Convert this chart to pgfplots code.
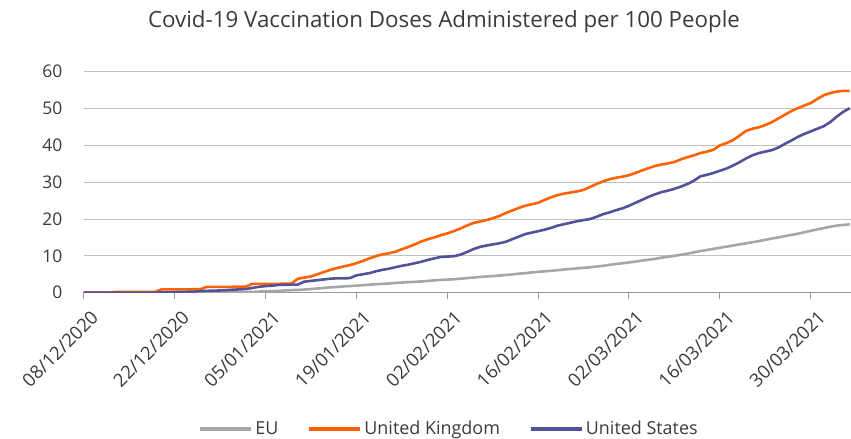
\documentclass[border=0pt]{standalone}
\usepackage{pgfplots}
\pgfplotsset{compat=1.18}
\usepackage{fontspec}
\setmainfont{Open Sans}

\definecolor{ukorange}{HTML}{FF6200}
\definecolor{usblue}{HTML}{525199}
\definecolor{eugrey}{HTML}{A6A6A6}
\definecolor{gridgrey}{HTML}{C0C0C0}
\definecolor{txt}{HTML}{3A3A3A}

% cumulative doses per 100 people; x = days since 08/12/2020
\pgfplotstableread{
day eu uk us
0 0 0 0
1 0 0 0
2 0 0 0
3 0 0 0
4 0 0.05 0
5 0 0.2 0
6 0 0.2 0
7 0 0.2 0
8 0 0.2 0
9 0 0.2 0
10 0 0.2 0
11 0 0.2 0
12 0 0.9 0.1
13 0 0.9 0.15
14 0 0.9 0.15
15 0 0.9 0.2
16 0 0.9 0.25
17 0 0.95 0.3
18 0 0.95 0.45
19 0 1.6 0.5
20 0 1.6 0.55
21 0.02 1.6 0.6
22 0.05 1.6 0.7
23 0.07 1.6 0.8
24 0.1 1.65 0.9
25 0.15 1.65 1.0
26 0.2 2.4 1.3
27 0.3 2.4 1.6
28 0.35 2.4 1.8
29 0.4 2.4 1.9
30 0.5 2.4 2.1
31 0.6 2.45 2.15
32 0.7 2.45 2.2
33 0.75 3.8 2.2
34 0.85 4.1 3.0
35 1.0 4.4 3.2
36 1.15 5.0 3.4
37 1.3 5.6 3.6
38 1.45 6.2 3.8
39 1.55 6.7 3.9
40 1.7 7.1 3.9
41 1.8 7.5 3.95
42 1.9 8.0 4.7
43 2.05 8.6 5.0
44 2.15 9.3 5.3
45 2.3 9.9 5.8
46 2.4 10.4 6.2
47 2.5 10.7 6.5
48 2.65 11.1 6.9
49 2.75 11.8 7.3
50 2.85 12.4 7.6
51 2.95 13.1 8.0
52 3.05 13.9 8.4
53 3.2 14.5 8.9
54 3.35 15.0 9.3
55 3.45 15.6 9.7
56 3.55 16.1 9.8
57 3.65 16.7 9.9
58 3.8 17.4 10.3
59 3.95 18.2 11.0
60 4.1 18.9 11.8
61 4.25 19.3 12.4
62 4.4 19.7 12.8
63 4.5 20.2 13.1
64 4.65 20.8 13.4
65 4.8 21.6 13.8
66 4.95 22.3 14.5
67 5.15 23.0 15.2
68 5.3 23.6 15.9
69 5.5 24.0 16.3
70 5.65 24.4 16.7
71 5.8 25.2 17.1
72 5.95 25.9 17.6
73 6.1 26.5 18.2
74 6.3 26.9 18.6
75 6.45 27.2 19.0
76 6.6 27.5 19.4
77 6.75 27.9 19.7
78 6.9 28.7 20.0
79 7.1 29.5 20.6
80 7.3 30.2 21.3
81 7.55 30.8 21.8
82 7.8 31.2 22.4
83 8.0 31.5 22.9
84 8.2 31.9 23.6
85 8.45 32.5 24.4
86 8.7 33.2 25.2
87 8.95 33.8 26.0
88 9.2 34.4 26.7
89 9.5 34.8 27.3
90 9.75 35.1 27.7
91 10.0 35.5 28.2
92 10.3 36.2 28.8
93 10.6 36.8 29.5
94 10.95 37.3 30.4
95 11.3 37.9 31.6
96 11.6 38.3 32.0
97 11.9 38.8 32.5
98 12.2 40.0 33.1
99 12.5 40.6 33.7
100 12.8 41.4 34.5
101 13.1 42.6 35.4
102 13.4 43.9 36.4
103 13.7 44.5 37.3
104 14.0 44.9 37.9
105 14.35 45.5 38.3
106 14.7 46.3 38.7
107 15.0 47.3 39.4
108 15.35 48.3 40.4
109 15.7 49.3 41.3
110 16.0 50.1 42.3
111 16.4 50.8 43.1
112 16.8 51.5 43.8
113 17.2 52.6 44.5
114 17.55 53.6 45.2
115 17.9 54.2 46.3
116 18.2 54.6 47.8
117 18.4 54.8 49.1
118 18.55 54.8 50.1
}\vaccdata

\begin{document}
\begin{tikzpicture}[x=1bp,y=1bp]
\useasboundingbox (0,0) rectangle (851,439);
\node[font=\fontsize{22.4}{26}\selectfont, text=txt] at (444,417) {Covid-19 Vaccination Doses Administered per 100 People};
\begin{axis}[
  at={(83.6bp,146.3bp)}, anchor=origin,
  scale only axis, width=767.4bp, height=221bp,
  xmin=0, xmax=118.2, ymin=0, ymax=60,
  axis x line*=bottom, axis y line*=left,
  x axis line style={draw=gridgrey!80!black, line width=1.3bp, -},
  y axis line style={draw=none},
  xtick={0,14,...,112},
  xticklabels={08/12/2020,22/12/2020,05/01/2021,19/01/2021,02/02/2021,16/02/2021,02/03/2021,16/03/2021,30/03/2021},
  xtick align=outside, major tick length=6bp,
  xtick style={draw=gridgrey!80!black, line width=1bp},
  xticklabel style={rotate=45, anchor=north east, inner sep=0pt, font=\fontsize{18.5}{21}\selectfont, text=txt, xshift=-3bp, yshift=-12bp},
  ytick={0,10,...,60},
  ymajorgrids, grid style={gridgrey, line width=1bp},
  yticklabel style={font=\fontsize{17.5}{20}\selectfont, text=txt, anchor=east, inner sep=0pt},
  ytick style={draw=none},
  every y tick label/.append style={xshift=-21bp},
  /pgf/number format/assume math mode=true,
  clip=true,
  legend style={at={(0.4762,-0.615)}, anchor=center, draw=none, fill=none,
    font=\fontsize{18}{21}\selectfont, text=txt, legend columns=3,
    /tikz/every even column/.append style={column sep=27bp}},
  legend image code/.code={\draw[#1, line width=4bp] (0bp,0bp) -- (51bp,0bp);},
]
\addplot[eugrey, line width=2.6bp, line join=round] table[x=day, y=eu] {\vaccdata};
\addlegendentry{EU}
\addplot[ukorange, line width=2.6bp, line join=round] table[x=day, y=uk] {\vaccdata};
\addlegendentry{United Kingdom}
\addplot[usblue, line width=2.6bp, line join=round] table[x=day, y=us] {\vaccdata};
\addlegendentry{United States}
\end{axis}
\end{tikzpicture}
\end{document}
